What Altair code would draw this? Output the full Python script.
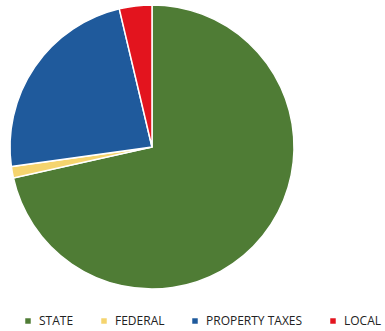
import altair as alt
import pandas as pd

categories = ["STATE", "FEDERAL", "PROPERTY TAXES", "LOCAL"]
shares = [71.5, 1.3, 23.5, 3.7]
colors = ["#4F7C35", "#F5D46E", "#1F5A9C", "#E3141E"]

df = pd.DataFrame({"source": categories, "share": shares, "idx": list(range(len(categories)))})

chart = alt.Chart(df).mark_arc(radius=142, stroke="white", strokeWidth=1.5).encode(
    theta=alt.Theta("share:Q", stack=True),
    order=alt.Order("idx:Q"),
    x=alt.value(152),
    y=alt.value(147),
    color=alt.Color(
        "source:N",
        sort=categories,
        scale=alt.Scale(domain=categories, range=colors),
        legend=alt.Legend(
            title=None,
            orient="none",
            legendX=22,
            legendY=315,
            direction="horizontal",
            symbolType="square",
            symbolSize=30,
            symbolStrokeWidth=0,
            labelFont="Open Sans",
            labelFontSize=12,
            labelColor="#222222",
            labelOffset=5,
            columnPadding=24,
            labelLimit=200,
        ),
    ),
).properties(
    width=385,
    height=331,
    padding=0,
    autosize=alt.AutoSizeParams(type="none"),
).configure_view(stroke=None)

chart.save("out.html", embed_options={"renderer": "svg", "actions": False})
